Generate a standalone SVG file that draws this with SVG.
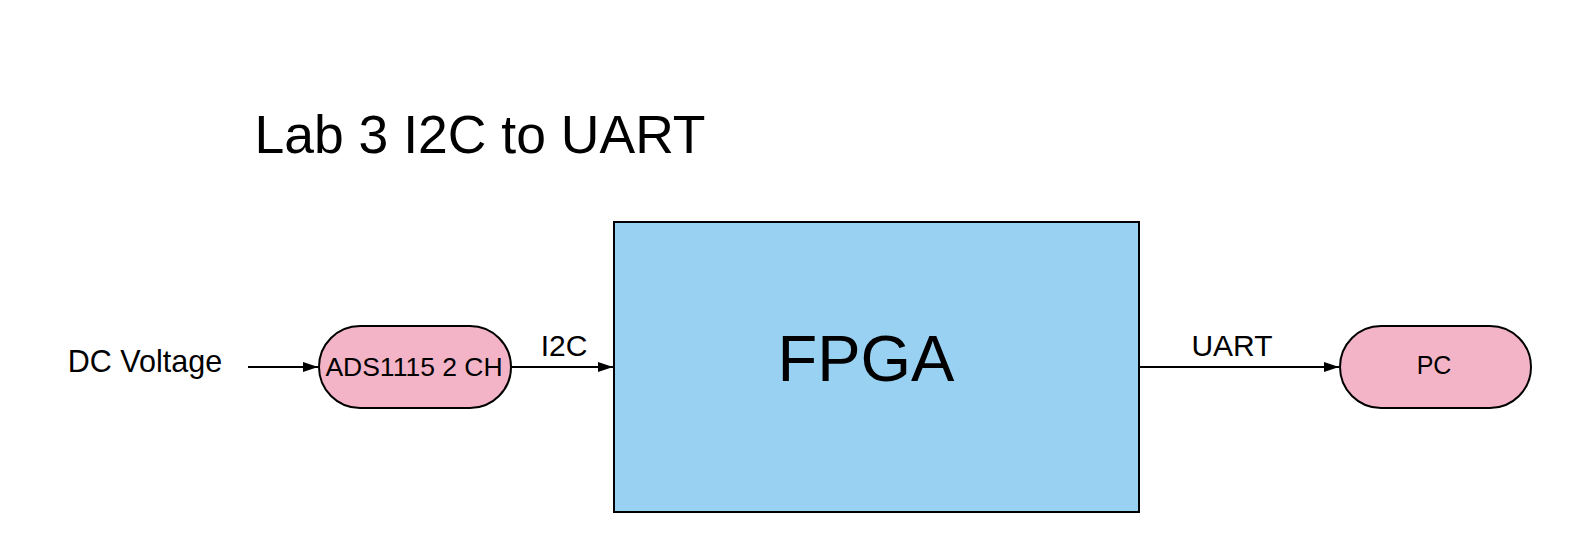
<svg xmlns="http://www.w3.org/2000/svg" width="1572" height="552" viewBox="0 0 1572 552">
<style>
text{font-family:"Liberation Sans",Arial,sans-serif;fill:#000;text-anchor:middle}
.pill{fill:#F4B4C7;stroke:#000;stroke-width:2}
.box{fill:#99D1F2;stroke:#000;stroke-width:2}
.conn{stroke:#000;stroke-width:2;fill:none;marker-end:url(#ah)}
</style>
<defs>
<marker id="ah" markerWidth="16" markerHeight="12" refX="15" refY="6" orient="auto" markerUnits="userSpaceOnUse">
<path d="M0,1 L15,6 L0,11 Z" fill="#000"/>
</marker>
</defs>
<rect width="1572" height="552" fill="#fff"/>
<g id="title"><text x="480" y="153" font-size="53.5">Lab 3 I2C to UART</text></g>
<g id="dc"><text x="145" y="372" font-size="30.5">DC Voltage</text></g>
<g id="connectors">
<line class="conn" x1="248" y1="367" x2="318" y2="367"/>
<line class="conn" x1="511" y1="367" x2="613" y2="367"/>
<line class="conn" x1="1139" y1="367" x2="1339" y2="367"/>
<text x="564" y="356" font-size="30">I2C</text>
<text x="1232" y="356" font-size="30">UART</text>
</g>
<g id="ads"><rect class="pill" x="319" y="326" width="192" height="82" rx="41"/><text x="414" y="376" font-size="26.5">ADS1115 2 CH</text></g>
<g id="fpga"><rect class="box" x="614" y="222" width="525" height="290"/><text x="866" y="381" font-size="65">FPGA</text></g>
<g id="pc"><rect class="pill" x="1340" y="326" width="191" height="82" rx="41"/><text x="1434" y="374" font-size="25">PC</text></g>
</svg>
